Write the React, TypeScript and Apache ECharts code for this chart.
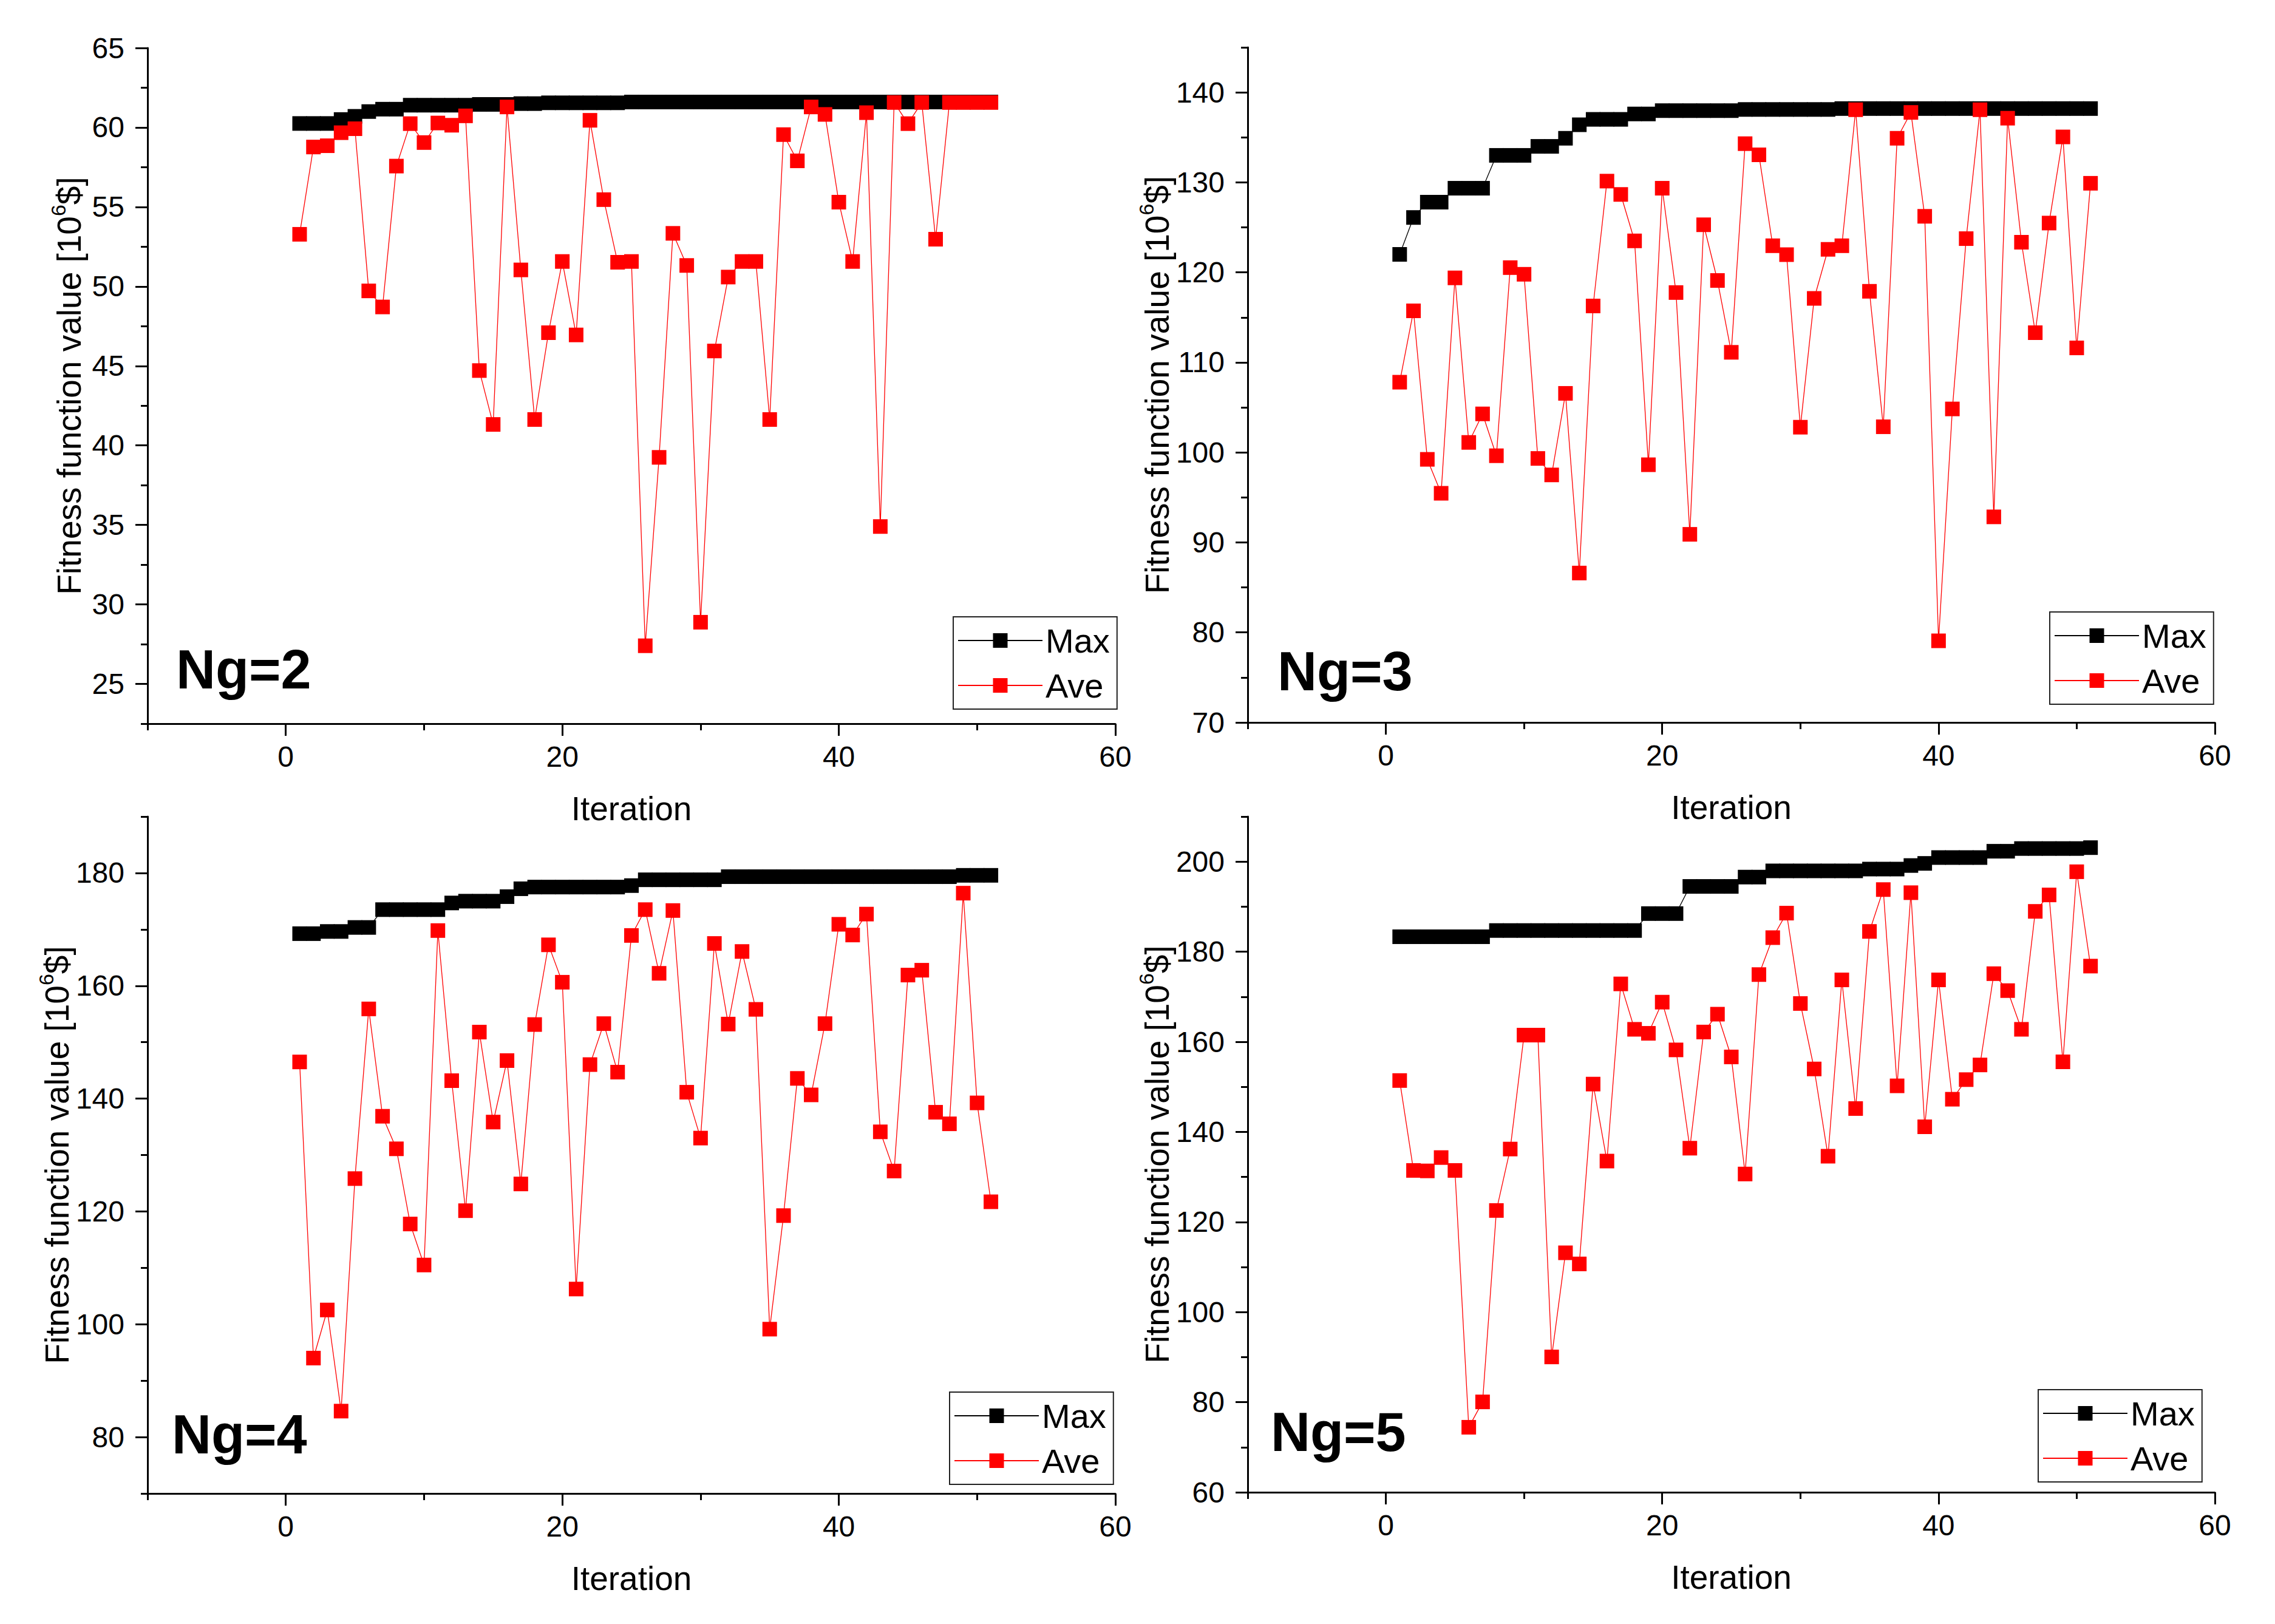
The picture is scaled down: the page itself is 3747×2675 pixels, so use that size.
import React, { useEffect, useRef } from "react";
import * as echarts from "echarts";

// ---------------- data ----------------
const iterations = [
  1, 2, 3, 4, 5, 6, 7, 8, 9, 10, 11, 12, 13, 14, 15, 16, 17, 18, 19, 20, 21, 22, 23, 24, 25,
  26, 27, 28, 29, 30, 31, 32, 33, 34, 35, 36, 37, 38, 39, 40, 41, 42, 43, 44, 45, 46, 47, 48,
  49, 50, 51,
];

const ng2Max = [
  60.25, 60.25, 60.25, 60.5, 60.7, 61.0, 61.15, 61.15, 61.4, 61.4, 61.4, 61.4, 61.4, 61.45,
  61.45, 61.45, 61.5, 61.5, 61.55, 61.55, 61.55, 61.55, 61.55, 61.55, 61.6, 61.6, 61.6, 61.6,
  61.6, 61.6, 61.6, 61.6, 61.6, 61.6, 61.6, 61.6, 61.6, 61.6, 61.6, 61.6, 61.6, 61.6, 61.6,
  61.6, 61.6, 61.6, 61.6, 61.6, 61.6, 61.6, 61.6,
];
const ng2Ave = [
  53.28, 58.77, 58.85, 59.67, 59.92, 49.72, 48.71, 57.57, 60.24, 59.05, 60.28, 60.14, 60.73,
  44.71, 41.32, 61.29, 51.04, 41.63, 47.09, 51.57, 46.95, 60.45, 55.46, 51.52, 51.57, 27.4,
  39.25, 53.34, 51.32, 28.88, 45.94, 50.59, 51.57, 51.57, 41.63, 59.55, 57.9, 61.29, 60.82,
  55.3, 51.57, 60.93, 34.9, 61.57, 60.24, 61.57, 52.97, 61.57, 61.57, 61.57, 61.57,
];

const ng3Max = [
  122.0, 126.1, 127.8, 127.8, 129.35, 129.35, 129.35, 133.0, 133.0, 133.0, 134.0, 134.0, 134.9,
  136.4, 137.0, 137.0, 137.0, 137.6, 137.6, 137.97, 137.97, 137.97, 137.97, 137.97, 137.97,
  138.1, 138.1, 138.1, 138.1, 138.1, 138.1, 138.1, 138.2, 138.2, 138.2, 138.2, 138.2, 138.2,
  138.2, 138.2, 138.2, 138.2, 138.2, 138.2, 138.2, 138.2, 138.2, 138.2, 138.2, 138.2, 138.2,
];
const ng3Ave = [
  107.8, 115.73, 99.23, 95.46, 119.39, 101.11, 104.28, 99.63, 120.53, 119.79, 99.33, 97.5,
  106.56, 86.6, 116.27, 130.14, 128.66, 123.5, 98.63, 129.35, 117.76, 90.9, 125.29, 119.1,
  111.12, 134.3, 133.06, 122.96, 121.97, 102.8, 117.11, 122.56, 122.96, 138.07, 117.9, 102.85,
  134.9, 137.77, 126.23, 79.07, 104.83, 123.75, 138.07, 92.84, 137.13, 123.35, 113.3, 125.48,
  135.05, 111.61, 129.9,
];

const ng4Max = [
  169.24, 169.24, 169.63, 169.63, 170.34, 170.34, 173.5, 173.5, 173.5, 173.5, 173.5, 174.68,
  175.0, 175.0, 175.0, 175.8, 177.2, 177.5, 177.5, 177.5, 177.5, 177.5, 177.5, 177.5, 177.76,
  178.79, 178.79, 178.79, 178.79, 178.79, 178.79, 179.34, 179.34, 179.34, 179.34, 179.34,
  179.34, 179.34, 179.34, 179.34, 179.34, 179.34, 179.34, 179.34, 179.34, 179.34, 179.34,
  179.34, 179.58, 179.58, 179.58,
];
const ng4Ave = [
  146.5, 94.0, 102.53, 84.6, 125.82, 155.9, 136.87, 131.1, 117.77, 110.5, 169.79, 143.18,
  120.13, 151.79, 135.84, 146.74, 124.87, 153.13, 167.26, 160.63, 106.24, 146.03, 153.29,
  144.69, 168.92, 173.5, 162.21, 173.34, 141.13, 133.0, 167.5, 153.21, 166.08, 155.82, 99.13,
  119.26, 143.58, 140.66, 153.29, 170.9, 169.0, 172.71, 134.11, 127.16, 161.9, 162.76, 137.58,
  135.53, 176.42, 139.24, 121.71,
];

const ng5Max = [
  183.32, 183.32, 183.32, 183.32, 183.32, 183.32, 183.32, 184.7, 184.7, 184.7, 184.7, 184.7,
  184.7, 184.7, 184.7, 184.7, 184.7, 184.7, 188.46, 188.46, 188.46, 194.49, 194.49, 194.49,
  194.49, 196.56, 196.56, 197.94, 197.94, 197.94, 197.94, 197.94, 197.94, 197.94, 198.34,
  198.34, 198.34, 199.13, 199.6, 200.9, 200.9, 200.9, 200.9, 202.3, 202.3, 202.9, 202.9, 202.9,
  202.9, 202.9, 203.1,
];
const ng5Ave = [
  151.4, 131.44, 131.34, 134.3, 131.44, 74.43, 80.06, 122.55, 136.19, 161.48, 161.48, 90.04,
  113.16, 110.69, 150.61, 133.52, 172.85, 162.77, 161.88, 168.8, 158.2, 136.38, 162.17, 166.13,
  156.64, 130.65, 174.92, 183.12, 188.56, 168.5, 153.97, 134.6, 173.74, 145.18, 184.5, 193.79,
  150.22, 193.1, 141.13, 173.74, 147.25, 151.6, 154.86, 175.12, 171.36, 162.77, 188.95, 192.6,
  155.55, 197.75, 176.8,
];

const seriesNames = ["Max", "Ave"];
const panelLabels = ["Ng=2", "Ng=3", "Ng=4", "Ng=5"];
const xMajorTicks = [0, 20, 40, 60];
const ng2MajorTicks = [25, 30, 35, 40, 45, 50, 55, 60, 65];
const ng3MajorTicks = [70, 80, 90, 100, 110, 120, 130, 140];
const ng4MajorTicks = [80, 100, 120, 140, 160, 180];
const ng5MajorTicks = [60, 80, 100, 120, 140, 160, 180, 200];

const xTitle = "Iteration";
const yTitle = "Fitness function value [10{sup|6}$]";

// ---------------- layout ----------------
const FONT = '"Liberation Sans", Arial, Helvetica, sans-serif';

const panels = [
  {
    label: panelLabels[0], max: ng2Max, ave: ng2Ave,
    yMin: 22.5, yMax: 65, yStep: 2.5, yMajor: ng2MajorTicks,
    grid: { left: 243, top: 79, width: 1594, height: 1113 },
    legend: { left: 1570, top: 1016 },
    tag: { x: 290, y: 1103 },
  },
  {
    label: panelLabels[1], max: ng3Max, ave: ng3Ave,
    yMin: 70, yMax: 145, yStep: 5, yMajor: ng3MajorTicks,
    grid: { left: 2055, top: 78, width: 1593, height: 1112 },
    legend: { left: 3376, top: 1008 },
    tag: { x: 2104, y: 1106 },
  },
  {
    label: panelLabels[2], max: ng4Max, ave: ng4Ave,
    yMin: 70, yMax: 190, yStep: 10, yMajor: ng4MajorTicks,
    grid: { left: 243, top: 1345, width: 1594, height: 1115 },
    legend: { left: 1564, top: 2293 },
    tag: { x: 283, y: 2363 },
  },
  {
    label: panelLabels[3], max: ng5Max, ave: ng5Ave,
    yMin: 60, yMax: 210, yStep: 10, yMajor: ng5MajorTicks,
    grid: { left: 2055, top: 1345, width: 1593, height: 1113 },
    legend: { left: 3357, top: 2289 },
    tag: { x: 2093, y: 2359 },
  },
];

function buildOption() {
  const grid: any[] = [];
  const xAxis: any[] = [];
  const yAxis: any[] = [];
  const series: any[] = [];
  const legend: any[] = [];
  const graphic: any[] = [];

  panels.forEach((p, k) => {
    grid.push({ ...p.grid, containLabel: false, outerBoundsMode: "none" });

    // main x axis (major ticks + labels)
    xAxis.push({
      type: "value",
      gridIndex: k,
      position: "bottom",
      min: -10,
      max: 60,
      interval: 10,
      axisLine: { show: true, onZero: false, lineStyle: { color: "#000", width: 3 } },
      axisTick: { show: true, length: 20, customValues: xMajorTicks, lineStyle: { color: "#000", width: 3 } },
      axisLabel: { customValues: xMajorTicks, margin: 30, fontSize: 48, color: "#000", fontFamily: FONT },
      splitLine: { show: false },
      name: xTitle,
      nameLocation: "middle",
      nameGap: 112,
      nameTextStyle: { fontSize: 55, color: "#000", fontFamily: FONT },
    });
    // minor x axis
    xAxis.push({
      type: "value",
      gridIndex: k,
      position: "bottom",
      min: -10,
      max: 60,
      interval: 10,
      axisLine: { show: false, onZero: false },
      axisTick: { show: true, length: 11, lineStyle: { color: "#000", width: 3 } },
      axisLabel: { show: false },
      splitLine: { show: false },
    });

    yAxis.push({
      type: "value",
      gridIndex: k,
      position: "left",
      min: p.yMin,
      max: p.yMax,
      interval: p.yStep,
      axisLine: { show: true, onZero: false, lineStyle: { color: "#000", width: 3 } },
      axisTick: { show: true, length: 20, customValues: p.yMajor, lineStyle: { color: "#000", width: 3 } },
      axisLabel: { customValues: p.yMajor, margin: 38, fontSize: 48, color: "#000", fontFamily: FONT },
      splitLine: { show: false },
      name: yTitle,
      nameLocation: "middle",
      nameGap: 94,
      nameRotate: 90,
      nameTextStyle: {
        fontSize: 55,
        color: "#000",
        fontFamily: FONT,
        rich: { sup: { fontSize: 34, color: "#000", fontFamily: FONT, padding: [0, 0, 36, 0] } },
      },
    });
    yAxis.push({
      type: "value",
      gridIndex: k,
      position: "left",
      min: p.yMin,
      max: p.yMax,
      interval: p.yStep,
      axisLine: { show: false, onZero: false },
      axisTick: { show: true, length: 11, lineStyle: { color: "#000", width: 3 } },
      axisLabel: { show: false },
      splitLine: { show: false },
    });

    series.push({
      name: seriesNames[0],
      type: "line",
      xAxisIndex: 2 * k,
      yAxisIndex: 2 * k,
      data: iterations.map((x, i) => [x, p.max[i]]),
      symbol: "rect",
      symbolSize: 24,
      itemStyle: { color: "#000000" },
      lineStyle: { color: "#000000", width: 1.3 },
      z: 2,
    });
    series.push({
      name: seriesNames[1],
      type: "line",
      xAxisIndex: 2 * k,
      yAxisIndex: 2 * k,
      data: iterations.map((x, i) => [x, p.ave[i]]),
      symbol: "rect",
      symbolSize: 24,
      itemStyle: { color: "#ff0000" },
      lineStyle: { color: "#ff0000", width: 1.3 },
      z: 3,
    });

    legend.push({
      data: seriesNames,
      orient: "vertical",
      left: p.legend.left,
      top: p.legend.top,
      padding: [11, 12, 11, 7],
      itemGap: 18,
      itemWidth: 139,
      itemHeight: 30,
      borderColor: "#222",
      borderWidth: 2,
      backgroundColor: "#fff",
      selectedMode: false,
      textStyle: { fontSize: 56, color: "#000", fontFamily: FONT },
    });

    graphic.push({
      type: "text",
      x: p.tag.x,
      y: p.tag.y,
      z: 10,
      style: {
        text: p.label,
        fontSize: 90,
        fontWeight: "bold",
        fontFamily: FONT,
        fill: "#000",
        align: "left",
        verticalAlign: "middle",
      },
    });
  });

  return {
    animation: false,
    backgroundColor: "#ffffff",
    textStyle: { fontFamily: FONT },
    grid,
    xAxis,
    yAxis,
    series,
    legend,
    graphic,
  };
}

export default function App() {
  const ref = useRef<HTMLDivElement>(null);
  useEffect(() => {
    if (!ref.current) return;
    const chart = echarts.init(ref.current, null, { renderer: "svg" });
    chart.setOption(buildOption() as any);
    return () => chart.dispose();
  }, []);
  return (
    <div
      ref={ref}
      style={{ position: "fixed", left: 0, top: 0, width: 3747, height: 2675, background: "#fff" }}
    />
  );
}
